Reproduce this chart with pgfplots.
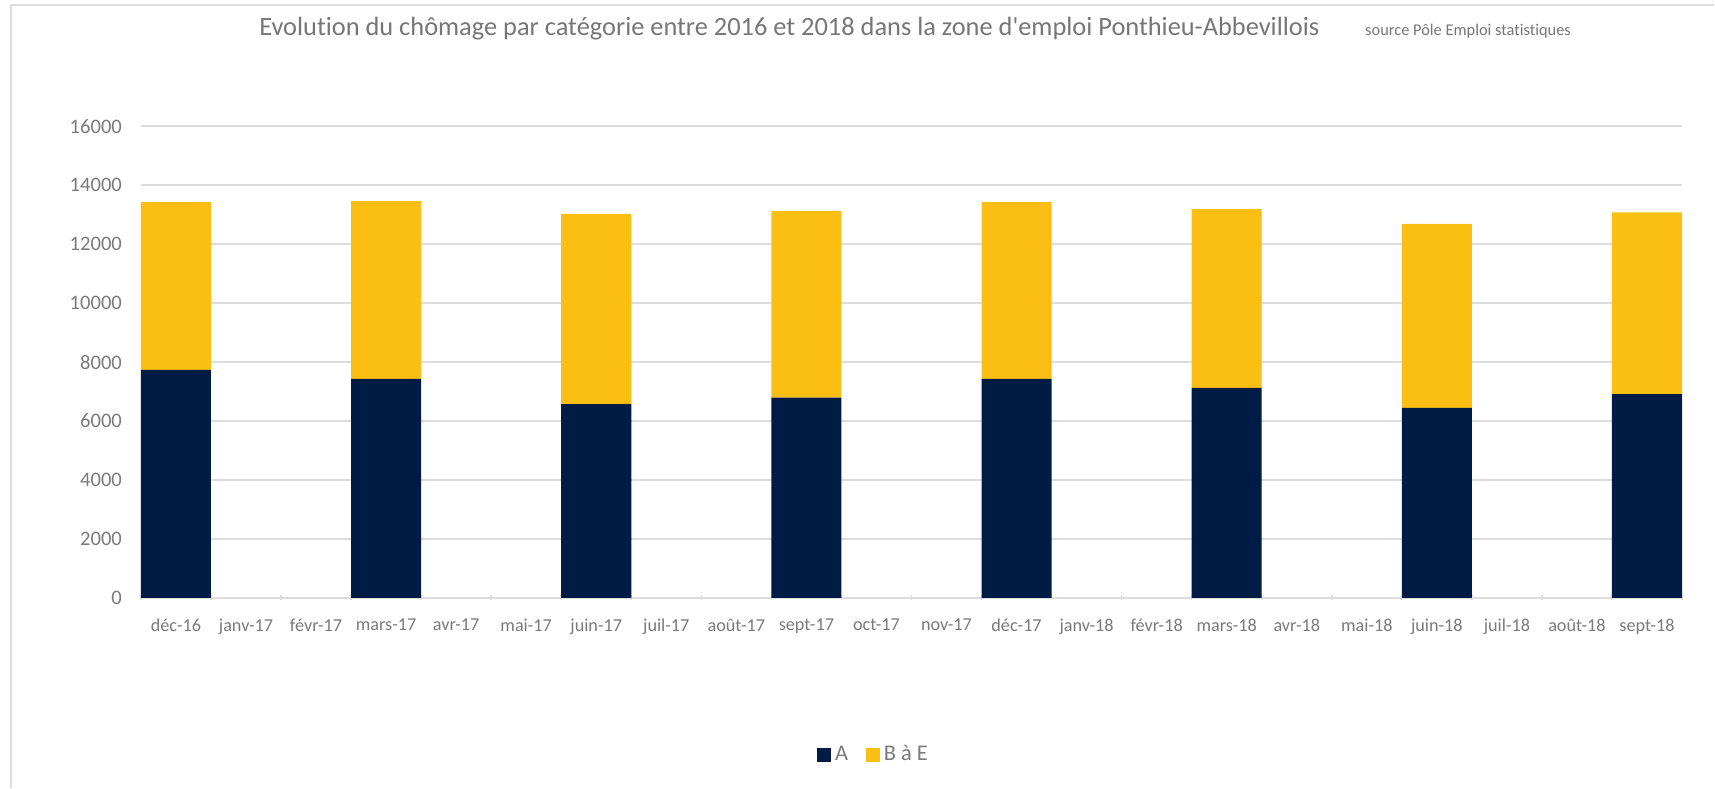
\documentclass[border=0pt]{standalone}
\usepackage{fontspec}
\setmainfont{Carlito}[Ligatures={NoCommon,TeXOff}]
\usepackage{pgfplots}
\pgfplotsset{compat=1.18}

\definecolor{catA}{HTML}{001B44}
\definecolor{catB}{HTML}{FBBF13}
\definecolor{txtgray}{HTML}{7A7A7A}
\definecolor{titlegray}{HTML}{767676}
\definecolor{gridgray}{HTML}{DDDDDD}

\begin{document}
\begin{tikzpicture}
% canvas 1715x788 px, 1 px = 0.5bp
\path (0,0) rectangle (857.5bp,394bp);
\draw[gridgray, line width=1bp] (5.5bp,0) -- (5.5bp,391.5bp) -- (857.5bp,391.5bp);

\node[anchor=base west, inner sep=0pt, text=titlegray, font=\fontsize{13.2bp}{16bp}\selectfont]
  at (129.5bp,376bp)
  {Evolution du chômage par catégorie entre 2016 et 2018 dans la zone d'emploi Ponthieu-Abbevillois\hspace{23bp}{\fontsize{8.2bp}{10bp}\selectfont source Pôle Emploi statistiques}};

\begin{axis}[
    at={(70.5bp,94.85bp)}, anchor=south west,
    scale only axis,
    width=771bp, height=236bp,
    ybar stacked,
    bar width=1,
    xmin=-0.5, xmax=21.5,
    ymin=0, ymax=16000,
    ytick={0,2000,...,16000},
    xtick={0,...,21},
    xticklabels={déc-16,janv-17,févr-17,mars-17,avr-17,mai-17,juin-17,juil-17,août-17,sept-17,oct-17,nov-17,déc-17,janv-18,févr-18,mars-18,avr-18,mai-18,juin-18,juil-18,août-18,sept-18},
    minor xtick={-0.5,0.5,...,21.5},
    major tick length=0pt,
    minor tick length=2.5bp,
    tick align=outside,
    minor tick style={gridgray, line width=0.75bp},
    axis lines=left,
    axis line style={-},
    y axis line style={draw=none},
    x axis line style={gridgray, line width=0.75bp},
    ymajorgrids,
    grid style={gridgray, line width=0.75bp},
    scaled y ticks=false,
    /pgf/number format/assume math mode=true,
    /pgf/number format/1000 sep={},
    tick label style={text=txtgray},
    yticklabel style={xshift=-6bp, font=\fontsize{10.3bp}{12bp}\selectfont},
    xticklabel style={yshift=-7bp, font=\fontsize{9.1bp}{11bp}\selectfont},
    legend style={at={(0.476,-0.332)}, anchor=center, draw=none, fill=none,
        legend columns=2, font=\fontsize{11.2bp}{13bp}\selectfont, text=txtgray,
        /tikz/every even column/.append style={column sep=7bp},
        legend cell align=left, inner sep=0pt},
    legend image code/.code={\fill[#1] (0bp,-3.5bp) rectangle (7bp,3.5bp);},
]
\addplot[fill=catA, draw=none] coordinates {
    (0,7734) (3,7429) (6,6572) (9,6795) (12,7429) (15,7124) (18,6447) (21,6910)
};
\addplot[fill=catB, draw=none] coordinates {
    (0,5691) (3,6030) (6,6457) (9,6335) (12,5996) (15,6064) (18,6243) (21,6166)
};
\legend{A,B à E}
\end{axis}
\end{tikzpicture}
\end{document}
